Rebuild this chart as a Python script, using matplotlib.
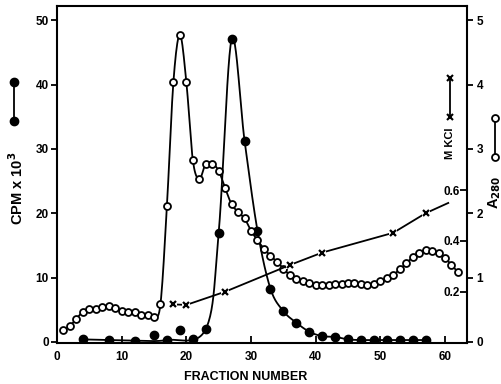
import matplotlib.pyplot as plt
import numpy as np
from matplotlib.lines import Line2D

plt.rcParams['font.family'] = ['Liberation Sans', 'DejaVu Sans']
plt.rcParams['font.weight'] = 'bold'

# A280 (open circles), one per fraction
fractions = list(range(1, 63))
a280 = [0.18, 0.25, 0.36, 0.47, 0.51, 0.51, 0.54, 0.56, 0.53, 0.48,
        0.47, 0.47, 0.42, 0.42, 0.39, 0.59, 2.12, 4.04, 4.77, 4.04,
        2.83, 2.53, 2.77, 2.77, 2.66, 2.39, 2.14, 2.02, 1.92, 1.73,
        1.58, 1.45, 1.34, 1.25, 1.14, 1.04, 0.98, 0.94, 0.92, 0.89,
        0.89, 0.89, 0.90, 0.90, 0.91, 0.91, 0.90, 0.89, 0.90, 0.94,
        0.99, 1.04, 1.13, 1.22, 1.32, 1.39, 1.43, 1.41, 1.38, 1.30,
        1.20, 1.08]

# CPM x 10^3 (filled circles)
cpm_frac = [4, 8, 12, 15, 17, 19, 21, 23, 25, 27, 29, 31, 33, 35, 37,
            39, 41, 43, 45, 47, 49, 51, 53, 55, 57]
cpm = [0.4, 0.3, 0.2, 1.1, 0.3, 1.9, 0.4, 2.0, 17.0, 47.0, 31.3, 17.3, 8.3,
       4.8, 3.0, 1.6, 0.9, 0.8, 0.4, 0.3, 0.3, 0.3, 0.3, 0.3, 0.3]
# points the hand-drawn curve does not pass through
cpm_off_curve = [15, 19, 21]

# M KCl (crosses)
kcl_frac = [18, 20, 26, 36, 41, 52, 57]
kcl = [0.150, 0.148, 0.200, 0.305, 0.354, 0.432, 0.509]


def smooth(x, y, n=24):
    # Catmull-Rom through the points
    x = np.asarray(x, float)
    y = np.asarray(y, float)
    px = np.concatenate([[2 * x[0] - x[1]], x, [2 * x[-1] - x[-2]]])
    py = np.concatenate([[2 * y[0] - y[1]], y, [2 * y[-1] - y[-2]]])
    t = np.linspace(0, 1, n, endpoint=False)[:, None]
    out = []
    for i in range(1, len(px) - 2):
        p0, p1, p2, p3 = [np.array([px[j], py[j]]) for j in range(i - 1, i + 3)]
        seg = 0.5 * (2 * p1 + (-p0 + p2) * t + (2 * p0 - 5 * p1 + 4 * p2 - p3) * t ** 2
                     + (-p0 + 3 * p1 - 3 * p2 + p3) * t ** 3)
        out.append(seg)
    out.append(np.array([[x[-1], y[-1]]]))
    out = np.vstack(out)
    return out[:, 0], out[:, 1]


fig = plt.figure(figsize=(5.02, 3.84), dpi=100)
ax = fig.add_axes([57 / 502, 41 / 384, 410 / 502, 337 / 384])
ax2 = ax.twinx()
ax3 = ax.twinx()
for a in (ax2, ax3):
    for s in a.spines.values():
        s.set_visible(False)
for s in ax.spines.values():
    s.set_linewidth(1.5)

lw = 1.3

# filled circles: CPM
cx = [f for f in cpm_frac if f not in cpm_off_curve]
cy = [v for f, v in zip(cpm_frac, cpm) if f not in cpm_off_curve]
sx, sy = smooth(cx, cy)
ax.plot(sx, sy, color='black', lw=lw)
ax.plot(cpm_frac, cpm, 'o', color='black', ms=6, zorder=3)

# open circles: A280
sx, sy = smooth(fractions, a280, n=10)
ax2.plot(sx, sy, color='black', lw=lw)
ax2.plot(fractions, a280, 'o', mfc='white', mec='black', mew=1.3, ms=5, zorder=3)

# crosses: KCl, line extended past the last point
slope = (kcl[-1] - kcl[-2]) / (kcl_frac[-1] - kcl_frac[-2])
ext_x = kcl_frac + [60.5]
ext_y = kcl + [kcl[-1] + slope * (60.5 - kcl_frac[-1]) * 0.75]
ax3.plot(ext_x, ext_y, color='black', lw=lw)
ax3.plot(kcl_frac, kcl, 's', color='white', ms=6, mew=0, zorder=3)
ax3.plot(kcl_frac, kcl, 'x', color='black', ms=4.5, mew=1.6, zorder=4)

ax.set_xlim(0, 63.4)
ax.set_ylim(-0.16, 52.2)
ax2.set_ylim(-0.016, 5.22)
ax3.set_ylim(-0.002, 1.325)

ax.set_xticks(range(0, 61, 10))
ax.set_yticks(range(0, 51, 10))
ax.tick_params(axis='x', direction='in', length=5, width=1.3, labelsize=8.5, pad=6)
ax.tick_params(axis='y', direction='out', length=4, width=1.3, labelsize=8.5, pad=2)
ax.tick_params(right=False)

ax2.set_yticks(range(0, 6))
ax2.tick_params(axis='y', direction='out', length=4, width=1.3, labelsize=8.5, pad=3)

ax3.set_yticks([0.2, 0.4, 0.6])
ax3.set_yticklabels(['0.2', '0.4', '0.6'])
ax3.tick_params(axis='y', direction='in', length=5, width=1.3, labelsize=8.5, pad=-5)
for lbl in ax3.get_yticklabels():
    lbl.set_horizontalalignment('right')

fig.text(246 / 502, 1 - 377 / 384, 'FRACTION NUMBER', ha='center', va='center',
         fontsize=9, fontweight='bold')
fig.text(17 / 502, 1 - 188 / 384, r'CPM x 10$^\mathbf{3}$', rotation=90, ha='center',
         va='center', fontsize=10.5, fontweight='bold')
fig.text(450 / 502, 1 - 143 / 384, 'M KCl', rotation=90, ha='center', va='center',
         fontsize=8, fontweight='bold')
fig.text(495 / 502, 1 - 192 / 384, r'A$_\mathbf{280}$', rotation=90, ha='center',
         va='center', fontsize=10.5, fontweight='bold')

# key symbols beside the axis labels
fig.add_artist(Line2D([14 / 502, 14 / 502], [1 - 82 / 384, 1 - 121 / 384],
                      transform=fig.transFigure, color='black', lw=lw,
                      marker='o', ms=6))
fig.add_artist(Line2D([450 / 502, 450 / 502], [1 - 117 / 384, 1 - 78 / 384],
                      transform=fig.transFigure, color='black', lw=lw,
                      marker='x', ms=4, mew=1.5))
fig.add_artist(Line2D([495 / 502, 495 / 502], [1 - 118 / 384, 1 - 157 / 384],
                      transform=fig.transFigure, color='black', lw=lw,
                      marker='o', ms=5, mfc='white', mew=1.3))

fig.savefig('out.png', dpi=100)
